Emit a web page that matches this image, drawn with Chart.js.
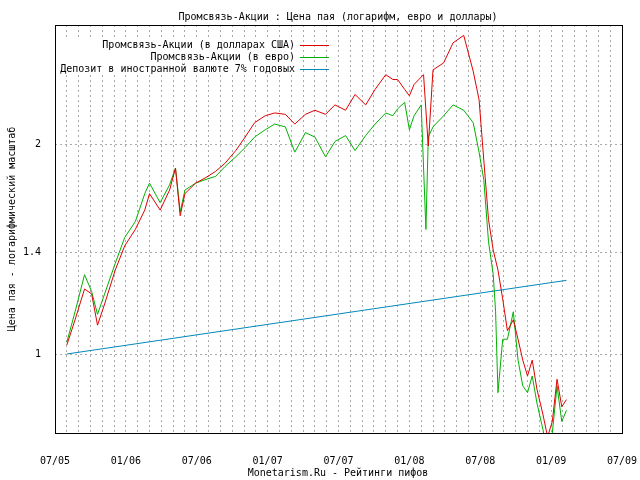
<!DOCTYPE html>
<html><head><meta charset="utf-8">
<script src="https://cdn.jsdelivr.net/npm/chart.js@4"></script>
<style>body{margin:0;background:#fff}#c{display:block}</style>
</head><body>
<div style="width:640px;height:480px"><canvas id="c"></canvas></div>
<script>
// months since 07/2005
var usdMonths = [1.0,1.7,2.5,3.1,3.6,4.2,5.1,5.9,6.8,7.6,8.0,8.9,9.7,10.2,10.6,11.0,11.9,12.7,13.6,14.4,15.3,16.1,16.9,17.8,18.6,19.5,20.3,21.2,22.0,22.9,23.7,24.6,25.4,26.3,27.1,28.0,28.6,29.0,29.6,30.0,30.4,31.2,31.6,32.0,32.9,33.7,34.6,35.4,35.9,36.3,36.7,37.1,37.5,37.9,38.3,38.8,39.2,39.6,40.0,40.4,40.8,41.3,41.7,42.1,42.5,42.9,43.3];
var usdValues = [1.03,1.12,1.24,1.22,1.10,1.18,1.32,1.43,1.51,1.61,1.70,1.61,1.72,1.85,1.58,1.70,1.76,1.79,1.83,1.88,1.96,2.05,2.15,2.20,2.22,2.21,2.14,2.21,2.24,2.21,2.28,2.24,2.36,2.28,2.40,2.52,2.48,2.48,2.40,2.35,2.44,2.52,1.99,2.56,2.62,2.80,2.87,2.55,2.32,1.90,1.56,1.41,1.32,1.20,1.08,1.12,1.05,0.98,0.93,0.98,0.89,0.82,0.76,0.80,0.92,0.84,0.86];
var eurMonths = [1.0,1.7,2.5,3.1,3.6,4.2,5.1,5.9,6.8,7.6,8.0,8.9,9.7,10.2,10.6,11.0,11.9,12.7,13.6,14.4,15.3,16.1,16.9,17.8,18.6,19.5,20.3,21.2,22.0,22.9,23.7,24.6,25.4,26.3,27.1,28.0,28.6,29.0,29.6,30.0,30.4,31.0,31.4,31.6,32.0,32.9,33.7,34.6,35.4,35.9,36.3,36.7,37.1,37.3,37.5,37.9,38.3,38.8,39.2,39.6,40.0,40.4,40.8,41.3,41.7,42.1,42.5,42.9,43.3];
var eurValues = [1.04,1.15,1.30,1.23,1.14,1.22,1.35,1.47,1.55,1.70,1.76,1.65,1.75,1.85,1.60,1.72,1.76,1.78,1.80,1.86,1.92,1.98,2.05,2.10,2.14,2.12,1.95,2.08,2.05,1.92,2.02,2.06,1.96,2.06,2.14,2.22,2.20,2.25,2.30,2.10,2.20,2.28,1.51,2.05,2.12,2.20,2.28,2.24,2.15,1.95,1.78,1.45,1.30,1.15,0.88,1.05,1.05,1.15,0.98,0.90,0.88,0.93,0.85,0.78,0.72,0.77,0.90,0.80,0.83];
var depMonths = [1.0, 43.3];
var depValues = [1.0, 1.276];
var yTicks = [1, 1.4, 2];
var xTickLabels = ['07/05','01/06','07/06','01/07','07/07','01/08','07/08','01/09','07/09'];
var seriesNames = ['Промсвязь-Акции (в долларах США)','Промсвязь-Акции (в евро)','Депозит в иностранной валюте 7% годовых'];
var seriesColors = ['#e00000','#00b000','#0088bb'];

function pts(xs, ys){ return xs.map(function(x,i){ return {x:x, y:ys[i]}; }); }
var FONT = '"DejaVu Sans Mono", monospace';

var frame = {
  id:'frame',
  afterDraw: function(c){
    var g=c.ctx, a=c.chartArea;
    g.save();
    g.setLineDash([]);
    g.strokeStyle='#000'; g.lineWidth=1;
    g.strokeRect(a.left+0.5,a.top+0.5,a.right-a.left,a.bottom-a.top);
    g.fillStyle='#000'; g.font='10px '+FONT;
    g.textAlign='center'; g.textBaseline='middle';
    g.fillText('Промсвязь-Акции : Цена пая (логарифм, евро и доллары)',338,17);
    g.fillText('Monetarism.Ru - Рейтинги пифов',338,473);
    g.save(); g.translate(12,229); g.rotate(-Math.PI/2);
    g.fillText('Цена пая - логарифмический масштаб',0,0); g.restore();
    g.textAlign='right';
    for (var i=0;i<3;i++){
      var y=45+i*12;
      g.fillStyle='#fff'; g.fillRect(a.left+2, y-6, 240, 12);
      g.fillStyle='#000'; g.fillText(seriesNames[i],295,y);
      g.fillStyle=seriesColors[i]; g.fillRect(300,y,29,1);
    }
    g.restore();
  }
};

new Chart(document.getElementById('c'), {
  type:'line',
  data:{ datasets:[
    {data:pts(usdMonths,usdValues), borderColor:seriesColors[0]},
    {data:pts(eurMonths,eurValues), borderColor:seriesColors[1]},
    {data:pts(depMonths,depValues), borderColor:seriesColors[2]}
  ]},
  options:{
    animation:false, responsive:true, maintainAspectRatio:false,
    layout:{padding:{top:25,right:18,left:0,bottom:0}},
    elements:{point:{radius:0}, line:{borderWidth:1, tension:0}},
    plugins:{legend:{display:false}, tooltip:{enabled:false}},
    scales:{
      x:{type:'linear', min:0, max:48,
        afterFit:function(s){ s.height=47; s.paddingLeft=0; s.paddingRight=0; },
        afterBuildTicks:function(s){ var t=[]; for(var i=0;i<=48;i++) t.push({value:i}); s.ticks=t; },
        ticks:{autoSkip:false, maxRotation:0, color:'#000', padding:22, font:{family:FONT,size:10},
          callback:function(v){ return v%6===0 ? xTickLabels[v/6] : ''; }},
        grid:{color:'#aaa', tickLength:0, drawTicks:false},
        border:{dash:[2,3], display:false}
      },
      y:{type:'logarithmic', min:0.77, max:2.97,
        afterFit:function(s){ s.width=55; s.paddingTop=0; s.paddingBottom=0; },
        afterBuildTicks:function(s){ s.ticks=yTicks.map(function(v){return {value:v};}); },
        ticks:{color:'#000', font:{family:FONT,size:10}, padding:14, callback:function(v){ return String(v); }},
        grid:{color:'#aaa', drawTicks:false},
        border:{dash:[2,3], display:false}
      }
    }
  },
  plugins:[frame]
});
</script>
</body></html>
